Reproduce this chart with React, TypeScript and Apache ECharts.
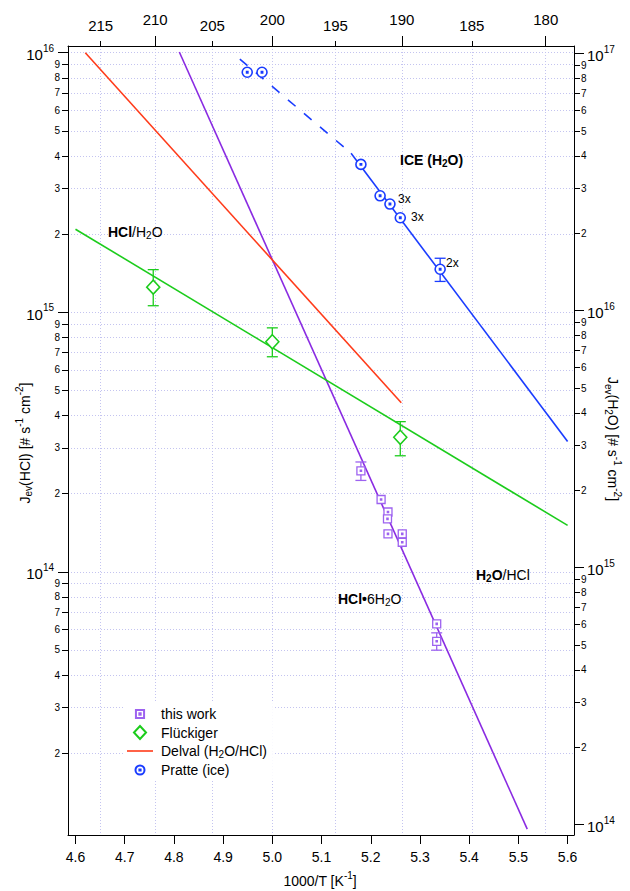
import React, { useEffect, useRef } from 'react';
import * as echarts from 'echarts';

const FONT = '"Liberation Sans", Arial, Helvetica, sans-serif';

// axis ranges (x in 1000/T, y in log10 units)
const X_MIN = 4.5848;
const X_MAX = 5.613;
const YL_MIN = 12.986;
const YL_MAX = 16.026;
const YR_MIN = 13.96;
const YR_MAX = 17.03;

// tick labels
const X_TICK_LABELS = ['4.6', '4.7', '4.8', '4.9', '5.0', '5.1', '5.2', '5.3', '5.4', '5.5', '5.6'];
const TOP_MAJOR_T = [210, 200, 190, 180];
const TOP_MINOR_T = [215, 205, 195, 185];
const LEFT_DECADES = [14, 15, 16];
const LEFT_MINOR_DECADES = [13, 14, 15];
const RIGHT_DECADES = [14, 15, 16, 17];
const RIGHT_MINOR_DECADES = [14, 15, 16];
const MANTISSAS = [2, 3, 4, 5, 6, 7, 8, 9];

// this work (HCl·6H2O), left axis
const WORK_X = [5.180, 5.221, 5.235, 5.234, 5.235, 5.264, 5.264, 5.334, 5.334];
const WORK_Y = [2.45e14, 1.9e14, 1.7e14, 1.6e14, 1.4e14, 1.4e14, 1.3e14, 6.3e13, 5.4e13];
const WORK_ERR_X = [5.180, 5.334];
const WORK_ERR_LO = [2.25e14, 4.99e13];
const WORK_ERR_HI = [2.65e14, 5.82e13];
const HEXA_FIT_X = [4.811, 5.518];
const HEXA_FIT_Y = [1.007e16, 1.02e13];

// Flückiger (HCl/H2O), left axis
const FLU_X = [4.758, 5.0, 5.26];
const FLU_Y = [1.25e15, 7.7e14, 3.3e14];
const FLU_LO = [1.06e15, 6.74e14, 2.8e14];
const FLU_HI = [1.46e15, 8.71e14, 3.79e14];
const FLU_FIT_X = [4.6, 5.6];
const FLU_FIT_Y = [2.09e15, 1.51e14];

// Delval (H2O/HCl), left axis
const DELVAL_X = [4.62, 5.262];
const DELVAL_Y = [1.0e16, 4.48e14];

// Pratte (ice), right axis
const PRATTE_X = [4.949, 4.979, 5.18, 5.219, 5.239, 5.26, 5.341];
const PRATTE_Y = [8.47e16, 8.47e16, 3.71e16, 2.8e16, 2.6e16, 2.3e16, 1.45e16];
const PRATTE_ERR_X = [5.341];
const PRATTE_ERR_LO = [1.3e16];
const PRATTE_ERR_HI = [1.6e16];
const ICE_FIT_X = [5.16, 5.6];
const ICE_FIT_Y = [4.1e16, 3.1e15];
const ICE_DASH_X = [4.934, 5.16];
const ICE_DASH_Y = [9.53e16, 4.1e16];

const PURPLE_LINE = '#8a2be2';
const PURPLE_MARK = '#9d62f0';
const GREEN = '#1ccc1c';
const RED = '#ff3b1a';
const BLUE = '#1a3cff';
const GRID = '#c4c4f0';

const L = Math.log10;
const pts = (xs: number[], ys: number[]) => xs.map((x, i) => [x, L(ys[i])]);
const errPts = (xs: number[], lo: number[], hi: number[]) => xs.map((x, i) => [x, L(lo[i]), L(hi[i])]);
const minorVals = (decades: number[], lo: number, hi: number) => {
  const out: number[] = [];
  decades.forEach((d) => MANTISSAS.forEach((m) => {
    const v = d + L(m);
    if (v >= lo && v <= hi) out.push(v);
  }));
  return out;
};

const SQ_DOT = 'path://M-10,-10 L10,-10 L10,10 L-10,10 Z M-1.6,-1.6 L1.6,-1.6 L1.6,1.6 L-1.6,1.6 Z';
const CIRC_DOT = 'path://M10,0 C10,5.523 5.523,10 0,10 C-5.523,10 -10,5.523 -10,0 C-10,-5.523 -5.523,-10 0,-10 C5.523,-10 10,-5.523 10,0 Z M-1.3,-1.3 L1.3,-1.3 L1.3,1.3 L-1.3,1.3 Z';
// legend icons (zero-length corner segments widen the bounding box so the mark is drawn smaller)
const SQ_LEG = 'path://M-16,-16 L-16,-16 M16,16 L16,16 M-10,-10 L10,-10 L10,10 L-10,10 Z M-1.6,-1.6 L1.6,-1.6 L1.6,1.6 L-1.6,1.6 Z';
const CIRC_LEG = 'path://M-14.4,-14.4 L-14.4,-14.4 M14.4,14.4 L14.4,14.4 M10,0 C10,5.523 5.523,10 0,10 C-5.523,10 -10,5.523 -10,0 C-10,-5.523 -5.523,-10 0,-10 C5.523,-10 10,-5.523 10,0 Z M-1.3,-1.3 L1.3,-1.3 L1.3,1.3 L-1.3,1.3 Z';
const DIA_LEG = 'path://M0,-7 L6.5,0 L0,7 L-6.5,0 Z';
const LINE_LEG = 'path://M0,0 L26,0 L26,1.6 L0,1.6 Z';

const TXT_RICH = {
  n: { fontSize: 14, fontFamily: FONT, color: '#000', padding: [3, 0, 0, 0], verticalAlign: 'top' },
  b: { fontSize: 14, fontFamily: FONT, color: '#000', fontWeight: 'bold', padding: [3, 0, 0, 0], verticalAlign: 'top' },
  sub: { fontSize: 10, fontFamily: FONT, color: '#000', padding: [9, 0, 0, 0], verticalAlign: 'top' },
  bsub: { fontSize: 10, fontFamily: FONT, color: '#000', fontWeight: 'bold', padding: [9, 0, 0, 0], verticalAlign: 'top' },
  sup: { fontSize: 10, fontFamily: FONT, color: '#000', padding: [0, 0, 0, 0], verticalAlign: 'top' },
};

const MAJOR_RICH = {
  a: { fontSize: 15, fontFamily: FONT, color: '#000', padding: [4, 0, 0, 0], verticalAlign: 'top' },
  s: { fontSize: 10, fontFamily: FONT, color: '#000', verticalAlign: 'top' },
};

const TOP_RICH = {
  hi: { fontSize: 15, fontFamily: FONT, color: '#000', padding: [0, 0, 6, 0] },
  lo: { fontSize: 15, fontFamily: FONT, color: '#000', padding: [0, 0, 0, 0] },
};

const errSeries = (data: number[][], color: string, yAxisIndex: number) => ({
  type: 'custom',
  xAxisIndex: 0,
  yAxisIndex,
  silent: true,
  z: 3,
  encode: { x: 0, y: [1, 2] },
  data,
  renderItem: (_p: any, api: any) => {
    const x = api.value(0);
    const a = api.coord([x, api.value(1)]);
    const b = api.coord([x, api.value(2)]);
    const w = 5.5;
    const st = { stroke: color, lineWidth: 1.3 };
    return {
      type: 'group',
      children: [
        { type: 'line', shape: { x1: a[0], y1: a[1], x2: b[0], y2: b[1] }, style: st },
        { type: 'line', shape: { x1: a[0] - w, y1: a[1], x2: a[0] + w, y2: a[1] }, style: st },
        { type: 'line', shape: { x1: b[0] - w, y1: b[1], x2: b[0] + w, y2: b[1] }, style: st },
      ],
    };
  },
});

const lineSeries = (name: string, data: number[][], color: string, yAxisIndex: number, type: any = 'solid') => ({
  name,
  type: 'line',
  xAxisIndex: 0,
  yAxisIndex,
  data,
  symbol: 'none',
  silent: true,
  z: 2,
  lineStyle: { color, width: 1.6, type },
  itemStyle: { color },
});

const axisLine = { show: true, lineStyle: { color: '#000', width: 1 } };
const splitLine = { show: true, lineStyle: { color: GRID, type: [1, 2], width: 1 } };

function buildOption() {
  const xBottomVals = X_TICK_LABELS.map(Number);
  const topMajor = TOP_MAJOR_T.map((t) => 1000 / t);
  const topMinor = TOP_MINOR_T.map((t) => 1000 / t);
  // padded with blank end labels so that no temperature label is the axis' first or last one
  const topAll = [X_MIN + 1e-6, ...[...TOP_MINOR_T, ...TOP_MAJOR_T].sort((a, b) => b - a).map((t) => 1000 / t), X_MAX - 1e-6];
  const leftMinor = minorVals(LEFT_MINOR_DECADES, YL_MIN, YL_MAX);
  const rightMinor = minorVals(RIGHT_MINOR_DECADES, YR_MIN, YR_MAX);
  const minorFmt = (v: number) => String(Math.round(Math.pow(10, v - Math.floor(v + 1e-9))));
  const majorFmt = (v: number) => `{a|10}{s|${Math.round(v)}}`;
  const tempFmt = (v: number) => {
    const t = Math.round(1000 / v);
    if (TOP_MAJOR_T.indexOf(t) >= 0) return `{hi|${t}}`;
    if (TOP_MINOR_T.indexOf(t) >= 0) return `{lo|${t}}`;
    return '';
  };

  return {
    animation: false,
    backgroundColor: '#fff',
    textStyle: { fontFamily: FONT },
    grid: { left: 68, right: 56, top: 46, bottom: 56, containLabel: false },
    xAxis: [
      {
        type: 'value', position: 'bottom', min: X_MIN, max: X_MAX,
        axisLine,
        axisTick: { show: true, length: 9, customValues: xBottomVals, lineStyle: { color: '#000' } },
        axisLabel: { customValues: xBottomVals, margin: 15, fontSize: 14, color: '#000', fontFamily: FONT, formatter: (v: number) => v.toFixed(1) },
        splitLine: { show: false },
      },
      {
        type: 'value', position: 'top', min: X_MIN, max: X_MAX,
        axisLine,
        axisTick: { show: true, length: 10, customValues: topMajor, lineStyle: { color: '#000' } },
        axisLabel: { customValues: topAll, margin: 13, formatter: tempFmt, rich: TOP_RICH, hideOverlap: false, showMinLabel: true, showMaxLabel: true },
        splitLine,
      },
      {
        type: 'value', position: 'top', min: X_MIN, max: X_MAX,
        axisLine: { show: false },
        axisTick: { show: true, length: 5, customValues: topMinor, lineStyle: { color: '#000' } },
        axisLabel: { show: false },
        splitLine,
      },
    ],
    yAxis: [
      {
        type: 'value', position: 'left', min: YL_MIN, max: YL_MAX,
        axisLine,
        axisTick: { show: true, length: 10, customValues: LEFT_DECADES, lineStyle: { color: '#000' } },
        axisLabel: { customValues: LEFT_DECADES, margin: 14, formatter: majorFmt, rich: MAJOR_RICH },
        splitLine,
      },
      {
        type: 'value', position: 'left', min: YL_MIN, max: YL_MAX,
        axisLine: { show: false },
        axisTick: { show: true, length: 6, customValues: leftMinor, lineStyle: { color: '#000' } },
        axisLabel: { customValues: leftMinor, margin: 8, fontSize: 10, color: '#000', fontFamily: FONT, formatter: minorFmt },
        splitLine,
      },
      {
        type: 'value', position: 'right', min: YR_MIN, max: YR_MAX,
        axisLine,
        axisTick: { show: true, length: 10, customValues: RIGHT_DECADES, lineStyle: { color: '#000' } },
        axisLabel: { customValues: RIGHT_DECADES, margin: 13, formatter: majorFmt, rich: MAJOR_RICH },
        splitLine: { show: false },
      },
      {
        type: 'value', position: 'right', min: YR_MIN, max: YR_MAX,
        axisLine: { show: false },
        axisTick: { show: true, length: 6, customValues: rightMinor, lineStyle: { color: '#000' } },
        axisLabel: { customValues: rightMinor, margin: 7, fontSize: 10, color: '#000', fontFamily: FONT, formatter: minorFmt },
        splitLine: { show: false },
      },
    ],
    legend: {
      data: [
        { name: 'this work', icon: SQ_LEG },
        { name: 'Flückiger', icon: DIA_LEG },
        { name: 'Delval (H2O/HCl)', icon: LINE_LEG, itemStyle: { color: RED, borderWidth: 0 } },
        { name: 'Pratte (ice)', icon: CIRC_LEG },
      ],
      orient: 'vertical',
      left: 124,
      top: 703,
      padding: [3, 6, 3, 3],
      itemWidth: 26,
      itemHeight: 13,
      itemGap: 2.5,
      backgroundColor: '#fff',
      textStyle: {
        fontSize: 14, fontFamily: FONT, color: '#000', lineHeight: 16,
        padding: [0, 0, 0, 3],
        rich: {
          sub: { fontSize: 10, fontFamily: FONT, color: '#000', padding: [7, 0, 0, 0] },
        },
      },
      formatter: (name: string) => (name === 'Delval (H2O/HCl)' ? 'Delval (H{sub|2}O/HCl)' : name),
    },
    series: [
      lineSeries('HCl6H2O fit', pts(HEXA_FIT_X, HEXA_FIT_Y), PURPLE_LINE, 0),
      lineSeries('HCl/H2O fit', pts(FLU_FIT_X, FLU_FIT_Y), GREEN, 0),
      lineSeries('Delval (H2O/HCl)', pts(DELVAL_X, DELVAL_Y), RED, 0),
      lineSeries('ice fit', pts(ICE_FIT_X, ICE_FIT_Y), BLUE, 2),
      lineSeries('ice dashed', pts(ICE_DASH_X, ICE_DASH_Y), BLUE, 2, [10, 11]),
      errSeries(errPts(WORK_ERR_X, WORK_ERR_LO, WORK_ERR_HI), PURPLE_MARK, 0),
      errSeries(errPts(FLU_X, FLU_LO, FLU_HI), GREEN, 0),
      errSeries(errPts(PRATTE_ERR_X, PRATTE_ERR_LO, PRATTE_ERR_HI), BLUE, 2),
      {
        name: 'this work', type: 'scatter', xAxisIndex: 0, yAxisIndex: 0, z: 4, silent: true,
        data: pts(WORK_X, WORK_Y), symbol: SQ_DOT, symbolSize: 8,
        itemStyle: { color: '#fff', borderColor: PURPLE_MARK, borderWidth: 1.3, opacity: 1 },
      },
      {
        name: 'Flückiger', type: 'scatter', xAxisIndex: 0, yAxisIndex: 0, z: 4, silent: true,
        data: pts(FLU_X, FLU_Y), symbol: 'diamond', symbolSize: [13, 14],
        itemStyle: { color: '#fff', borderColor: GREEN, borderWidth: 1.6, opacity: 1 },
      },
      {
        name: 'Pratte (ice)', type: 'scatter', xAxisIndex: 0, yAxisIndex: 2, z: 4, silent: true,
        data: pts(PRATTE_X, PRATTE_Y), symbol: CIRC_DOT, symbolSize: 10,
        itemStyle: { color: '#fff', borderColor: BLUE, borderWidth: 1.6, opacity: 1 },
      },
    ],
    graphic: [
      { type: 'text', x: 400, y: 159, z: 10, style: { text: '{b|ICE (H}{bsub|2}{b|O)}', rich: TXT_RICH, verticalAlign: 'middle', align: 'left' } },
      { type: 'text', x: 398, y: 199, z: 10, style: { text: '3x', fontSize: 12, fontFamily: FONT, fill: '#000', verticalAlign: 'middle' } },
      { type: 'text', x: 411, y: 217, z: 10, style: { text: '3x', fontSize: 12, fontFamily: FONT, fill: '#000', verticalAlign: 'middle' } },
      { type: 'text', x: 446, y: 263, z: 10, style: { text: '2x', fontSize: 12, fontFamily: FONT, fill: '#000', verticalAlign: 'middle' } },
      { type: 'text', x: 108, y: 231, z: 10, style: { text: '{b|HCl}{n|/H}{sub|2}{n|O}', rich: TXT_RICH, verticalAlign: 'middle', align: 'left' } },
      { type: 'text', x: 338, y: 598, z: 10, style: { text: '{b|HCl•}{n|6H}{sub|2}{n|O}', rich: TXT_RICH, verticalAlign: 'middle', align: 'left' } },
      { type: 'text', x: 476, y: 574, z: 10, style: { text: '{b|H}{bsub|2}{b|O}{n|/HCl}', rich: TXT_RICH, verticalAlign: 'middle', align: 'left' } },
      { type: 'text', x: 24, y: 443, rotation: Math.PI / 2, z: 10, style: { text: '{n|J}{sub|ev}{n|(HCl) [# s}{sup|-1}{n| cm}{sup|-2}{n|]}', rich: TXT_RICH, verticalAlign: 'middle', align: 'center' } },
      { type: 'text', x: 613, y: 439, rotation: -Math.PI / 2, z: 10, style: { text: '{n|J}{sub|ev}{n|(H}{sub|2}{n|O) [# s}{sup|-1}{n| cm}{sup|-2}{n|]}', rich: TXT_RICH, verticalAlign: 'middle', align: 'center' } },
      { type: 'text', x: 320, y: 879, z: 10, style: { text: '{n|1000/T [K}{sup|-1}{n|]}', rich: TXT_RICH, verticalAlign: 'middle', align: 'center' } },
    ],
  };
}

export default function App() {
  const ref = useRef<HTMLDivElement>(null);
  useEffect(() => {
    if (!ref.current) return;
    const chart = echarts.init(ref.current, null, { renderer: 'svg' });
    chart.setOption(buildOption() as any);
    return () => chart.dispose();
  }, []);
  return (
    <div
      ref={ref}
      style={{ position: 'fixed', left: 0, top: 0, width: 630, height: 891, background: '#fff' }}
    />
  );
}
